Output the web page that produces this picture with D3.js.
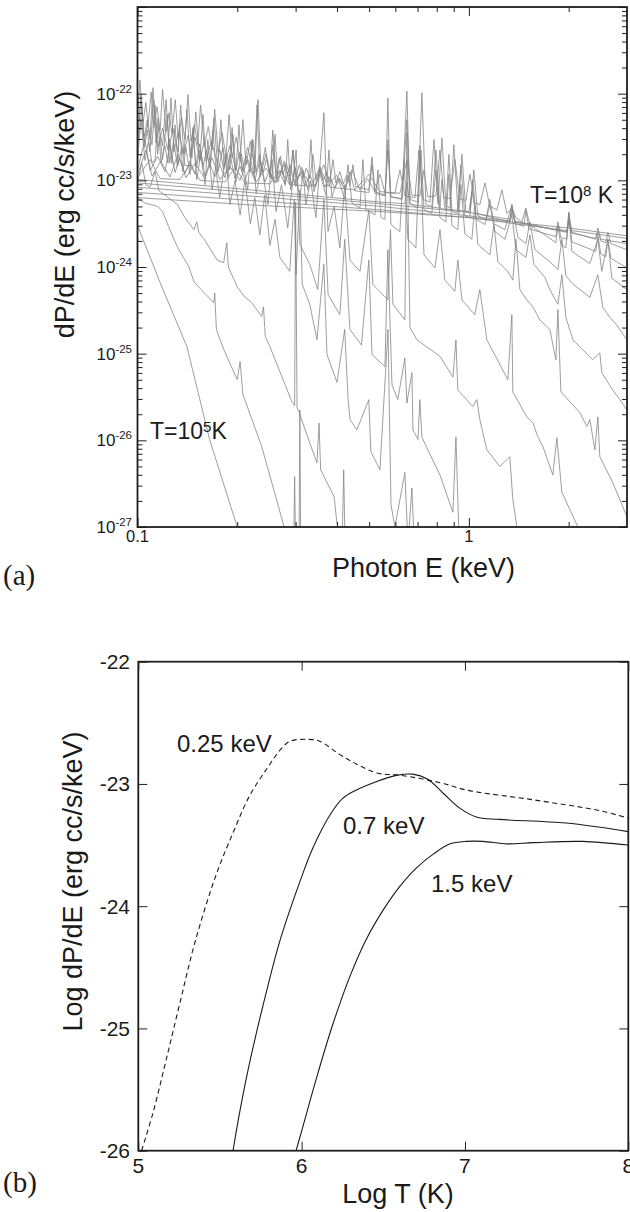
<!DOCTYPE html>
<html>
<head>
<meta charset="utf-8">
<script src="https://cdn.jsdelivr.net/npm/d3@7"></script>
<style>
  html, body { margin: 0; padding: 0; background: #fff; }
  svg { display: block; }
  text { font-family: "Liberation Sans", Arial, Helvetica, sans-serif; fill: #1a1a1a; }
</style>
</head>
<body>
<div id="chart"></div>
<script>
// panel (a): spectra, [photon E (keV), log10 dP/dE], one array per log T
const spectrumLogT = [5.0, 5.2, 5.4, 5.6, 5.8, 6.0, 6.2, 6.4, 6.6, 6.8, 7.0, 7.2, 7.4, 7.6, 7.8, 8.0];

const spec50 = [[0.100,-23.52],[0.117,-24.18],[0.141,-24.92],[0.165,-25.99],[0.200,-27.00],[0.218,-27.55]];
const spec52 = [[0.100,-23.20],[0.105,-23.26],[0.115,-23.30],[0.119,-23.36],[0.124,-23.53],[0.132,-23.77],[0.143,-24.00],[0.148,-24.17],[0.159,-24.30],[0.170,-24.41],[0.171,-24.30],[0.173,-24.72],[0.182,-24.95],[0.200,-25.30],[0.204,-25.09],[0.208,-25.47],[0.237,-26.07],[0.277,-27.00],[0.296,-27.30],[0.298,-26.42],[0.300,-27.35],[0.307,-27.40],[0.309,-25.65],[0.311,-27.45],[0.340,-27.70]];
const spec54 = [[0.100,-23.02],[0.103,-22.80],[0.106,-23.05],[0.109,-23.08],[0.113,-22.90],[0.116,-23.12],[0.121,-23.17],[0.132,-23.28],[0.139,-23.43],[0.148,-23.57],[0.151,-23.48],[0.153,-23.60],[0.159,-23.68],[0.174,-23.92],[0.182,-23.95],[0.186,-23.72],[0.188,-24.00],[0.200,-24.23],[0.210,-24.34],[0.221,-24.41],[0.237,-24.57],[0.240,-24.46],[0.243,-24.80],[0.251,-24.92],[0.292,-25.55],[0.298,-25.60],[0.300,-23.25],[0.303,-25.62],[0.307,-25.67],[0.331,-26.03],[0.348,-26.26],[0.353,-25.80],[0.357,-26.34],[0.392,-26.65],[0.400,-26.97],[0.415,-27.10],[0.419,-26.34],[0.423,-27.20],[0.450,-27.50]];
const spec56 = [[0.100,-22.62],[0.103,-22.18],[0.105,-22.62],[0.107,-22.42],[0.109,-22.67],[0.112,-22.07],[0.115,-22.70],[0.117,-22.50],[0.119,-22.76],[0.123,-22.24],[0.125,-22.80],[0.1285,-22.55],[0.132,-22.84],[0.134,-22.36],[0.137,-22.90],[0.140,-22.62],[0.144,-22.93],[0.147,-22.42],[0.151,-22.99],[0.155,-22.70],[0.160,-23.05],[0.163,-22.53],[0.168,-23.11],[0.172,-22.85],[0.177,-23.20],[0.185,-22.70],[0.190,-23.28],[0.197,-23.00],[0.204,-23.40],[0.211,-22.99],[0.219,-23.50],[0.226,-23.20],[0.234,-23.63],[0.242,-23.17],[0.251,-23.75],[0.260,-23.45],[0.269,-23.89],[0.288,-24.05],[0.297,-23.22],[0.301,-24.09],[0.309,-23.11],[0.314,-24.20],[0.331,-24.43],[0.348,-24.84],[0.365,-23.97],[0.373,-25.01],[0.400,-25.33],[0.422,-24.72],[0.432,-25.53],[0.438,-25.76],[0.459,-25.88],[0.499,-25.53],[0.506,-26.13],[0.539,-26.34],[0.570,-24.72],[0.582,-26.74],[0.598,-27.00],[0.641,-26.37],[0.655,-27.20],[0.673,-26.55],[0.687,-27.38],[0.763,-27.84]];
const spec58 = [[0.100,-22.47],[0.1025,-22.01],[0.1046,-22.51],[0.107,-22.30],[0.109,-22.53],[0.1114,-21.93],[0.1137,-22.57],[0.116,-22.38],[0.119,-22.60],[0.122,-22.07],[0.1245,-22.62],[0.128,-22.40],[0.1325,-22.67],[0.135,-22.13],[0.138,-22.70],[0.142,-22.48],[0.146,-22.74],[0.150,-22.21],[0.154,-22.78],[0.159,-22.55],[0.1655,-22.85],[0.170,-22.28],[0.175,-22.90],[0.181,-22.62],[0.1875,-22.97],[0.193,-22.39],[0.198,-23.02],[0.206,-22.70],[0.215,-23.11],[0.2215,-22.53],[0.228,-23.15],[0.237,-22.85],[0.2475,-23.28],[0.2545,-22.76],[0.262,-23.36],[0.272,-23.05],[0.284,-23.55],[0.301,-22.65],[0.309,-23.74],[0.331,-23.97],[0.350,-24.26],[0.365,-23.22],[0.376,-24.32],[0.408,-24.55],[0.422,-23.68],[0.4375,-24.72],[0.474,-24.90],[0.499,-23.92],[0.510,-25.01],[0.558,-25.15],[0.5695,-23.80],[0.586,-25.36],[0.6105,-25.53],[0.641,-25.05],[0.650,-25.57],[0.673,-25.22],[0.678,-25.88],[0.702,-25.99],[0.7115,-25.53],[0.721,-25.96],[0.752,-26.11],[0.818,-26.40],[0.895,-26.83],[0.914,-25.96],[0.933,-27.09],[1.04,-27.49]];
const spec60 = [[0.100,-22.30],[0.1017,-21.84],[0.104,-22.33],[0.106,-22.10],[0.1076,-22.36],[0.110,-21.98],[0.112,-22.39],[0.1145,-22.15],[0.117,-22.42],[0.119,-21.95],[0.122,-22.44],[0.1245,-22.22],[0.127,-22.46],[0.130,-22.07],[0.1325,-22.50],[0.136,-22.28],[0.139,-22.53],[0.142,-22.01],[0.145,-22.55],[0.1485,-22.35],[0.152,-22.59],[0.155,-22.13],[0.159,-22.61],[0.1635,-22.38],[0.168,-22.65],[0.171,-22.18],[0.175,-22.68],[0.180,-22.45],[0.185,-22.72],[0.189,-22.24],[0.193,-22.74],[0.1985,-22.50],[0.204,-22.78],[0.208,-22.30],[0.2125,-22.82],[0.219,-22.55],[0.226,-22.88],[0.231,-22.07],[0.236,-22.90],[0.243,-22.62],[0.251,-22.97],[0.256,-22.42],[0.262,-22.99],[0.270,-22.72],[0.279,-23.06],[0.284,-22.53],[0.290,-23.11],[0.299,-22.85],[0.309,-23.22],[0.316,-22.88],[0.322,-23.28],[0.333,-23.00],[0.3455,-23.43],[0.3652,-22.22],[0.3756,-23.59],[0.392,-23.30],[0.408,-23.78],[0.422,-23.05],[0.4375,-23.92],[0.469,-24.05],[0.499,-23.34],[0.513,-24.20],[0.5695,-24.38],[0.580,-23.57],[0.590,-24.43],[0.641,-24.61],[0.650,-22.45],[0.664,-24.70],[0.697,-24.84],[0.818,-25.03],[0.895,-25.27],[0.914,-24.84],[0.926,-25.42],[1.028,-25.61],[1.057,-25.53],[1.079,-25.76],[1.133,-26.11],[1.240,-26.30],[1.329,-26.19],[1.357,-26.68],[1.396,-27.00],[1.528,-27.38]];
const spec62 = [[0.100,-22.53],[0.1025,-22.07],[0.1046,-22.55],[0.1075,-22.35],[0.1106,-22.59],[0.1129,-22.13],[0.1153,-22.61],[0.119,-22.40],[0.1236,-22.65],[0.1262,-22.05],[0.1288,-22.67],[0.133,-22.45],[0.1381,-22.70],[0.141,-22.18],[0.144,-22.73],[0.149,-22.50],[0.1543,-22.76],[0.1576,-22.24],[0.161,-22.78],[0.167,-22.55],[0.1748,-22.82],[0.1785,-22.30],[0.1823,-22.84],[0.190,-22.60],[0.1982,-22.88],[0.2024,-22.36],[0.2066,-22.90],[0.215,-22.62],[0.2246,-22.93],[0.2294,-22.13],[0.2342,-22.96],[0.244,-22.70],[0.2545,-22.99],[0.260,-22.47],[0.2653,-23.02],[0.277,-22.78],[0.2884,-23.05],[0.2945,-22.65],[0.3006,-23.07],[0.313,-22.85],[0.3268,-23.11],[0.3337,-22.53],[0.3407,-23.13],[0.355,-22.92],[0.3703,-23.17],[0.3782,-22.65],[0.3861,-23.19],[0.403,-22.98],[0.4224,-23.22],[0.4315,-22.82],[0.4437,-23.26],[0.4691,-23.32],[0.4787,-22.76],[0.4889,-23.34],[0.5205,-23.40],[0.5313,-22.88],[0.5428,-23.43],[0.5579,-23.45],[0.5695,-22.05],[0.5815,-23.51],[0.619,-23.59],[0.6366,-22.76],[0.6546,-23.68],[0.692,-23.78],[0.7115,-22.60],[0.732,-23.86],[0.790,-24.01],[0.818,-23.57],[0.846,-24.15],[0.907,-24.28],[0.926,-23.92],[0.953,-24.38],[1.042,-24.55],[1.079,-24.26],[1.133,-24.84],[1.311,-25.30],[1.348,-24.55],[1.357,-25.44],[1.496,-25.73],[1.560,-25.80],[1.615,-25.96],[1.672,-26.07],[1.792,-26.40],[1.843,-25.97],[1.908,-26.60],[2.133,-27.00],[2.317,-27.27]];
const spec64 = [[0.100,-22.76],[0.1025,-22.30],[0.1053,-22.77],[0.108,-22.55],[0.1105,-22.79],[0.1129,-22.78],[0.1153,-22.28],[0.1177,-22.80],[0.121,-22.60],[0.1235,-22.80],[0.125,-22.52],[0.1271,-22.81],[0.1298,-22.36],[0.1325,-22.82],[0.136,-22.62],[0.139,-22.83],[0.144,-22.83],[0.147,-22.39],[0.150,-22.84],[0.154,-22.58],[0.158,-22.84],[0.161,-22.66],[0.1655,-22.85],[0.1689,-22.42],[0.1725,-22.87],[0.177,-22.64],[0.182,-22.88],[0.186,-22.70],[0.190,-22.88],[0.194,-22.47],[0.198,-22.89],[0.203,-22.68],[0.208,-22.89],[0.213,-22.72],[0.2185,-22.90],[0.2231,-22.53],[0.2278,-22.91],[0.233,-22.70],[0.239,-22.91],[0.245,-22.76],[0.251,-22.92],[0.2563,-22.59],[0.2617,-22.93],[0.268,-22.74],[0.275,-22.94],[0.281,-22.80],[0.2884,-22.95],[0.2945,-22.65],[0.3006,-22.96],[0.308,-22.82],[0.316,-22.97],[0.323,-22.86],[0.3314,-22.98],[0.3384,-22.70],[0.3455,-22.99],[0.355,-22.84],[0.364,-23.00],[0.372,-22.90],[0.381,-23.02],[0.389,-22.76],[0.397,-23.03],[0.408,-22.90],[0.418,-23.04],[0.428,-22.94],[0.4375,-23.06],[0.4467,-22.82],[0.456,-23.07],[0.499,-23.11],[0.510,-22.73],[0.5205,-23.13],[0.558,-23.17],[0.5695,-22.53],[0.5815,-23.19],[0.628,-23.22],[0.650,-21.97],[0.664,-23.26],[0.702,-23.32],[0.717,-22.65],[0.732,-23.34],[0.773,-23.38],[0.795,-22.88],[0.818,-23.43],[0.852,-23.48],[0.870,-22.93],[0.889,-23.52],[0.926,-23.57],[0.946,-23.05],[0.9725,-23.62],[1.021,-23.68],[1.042,-23.28],[1.064,-23.74],[1.157,-23.86],[1.190,-23.51],[1.223,-23.94],[1.311,-24.05],[1.357,-24.15],[1.387,-23.68],[1.425,-24.26],[1.496,-24.38],[1.560,-24.46],[1.637,-24.61],[1.755,-24.72],[1.830,-25.07],[1.856,-24.49],[1.895,-25.44],[2.162,-25.68],[2.270,-25.84],[2.317,-25.76],[2.400,-26.11],[2.450,-25.73],[2.484,-26.19],[2.719,-26.49],[2.997,-26.88]];
const spec66 = [[0.100,-22.88],[0.1053,-22.53],[0.1091,-22.89],[0.115,-22.72],[0.1211,-22.90],[0.1253,-22.59],[0.1298,-22.91],[0.134,-22.74],[0.139,-22.92],[0.144,-22.78],[0.1491,-22.93],[0.1543,-22.65],[0.1598,-22.95],[0.165,-22.80],[0.171,-22.96],[0.177,-22.82],[0.1837,-22.97],[0.1901,-22.70],[0.1968,-22.98],[0.204,-22.84],[0.211,-22.99],[0.218,-22.86],[0.2262,-23.00],[0.2342,-22.76],[0.2424,-23.02],[0.250,-22.88],[0.259,-23.03],[0.268,-22.90],[0.2786,-23.04],[0.2884,-22.82],[0.2985,-23.05],[0.309,-22.92],[0.320,-23.06],[0.331,-22.94],[0.3431,-23.07],[0.3552,-22.88],[0.3677,-23.08],[0.380,-22.96],[0.394,-23.09],[0.408,-22.98],[0.4224,-23.11],[0.4375,-22.90],[0.4529,-23.12],[0.4993,-23.14],[0.5098,-22.82],[0.5205,-23.15],[0.5579,-23.18],[0.5695,-22.65],[0.5815,-23.19],[0.6283,-23.21],[0.6501,-22.30],[0.6637,-23.22],[0.7018,-23.25],[0.7214,-21.99],[0.7418,-23.28],[0.7733,-23.30],[0.7953,-22.65],[0.8177,-23.32],[0.8524,-23.34],[0.8703,-22.70],[0.8887,-23.36],[0.9264,-23.38],[0.946,-22.82],[0.9725,-23.41],[1.007,-23.43],[1.028,-22.99],[1.050,-23.45],[1.118,-23.51],[1.157,-23.28],[1.198,-23.59],[1.284,-23.68],[1.348,-23.40],[1.387,-23.80],[1.486,-23.89],[1.528,-23.63],[1.571,-23.97],[1.696,-24.12],[1.755,-24.26],[1.856,-24.43],[1.908,-24.09],[1.962,-24.58],[2.060,-24.84],[2.162,-24.92],[2.366,-25.07],[2.484,-24.99],[2.518,-25.22],[2.719,-25.42],[2.855,-25.53],[2.997,-25.65]];
const spec68 = [[0.100,-22.93],[0.1061,-22.65],[0.1106,-22.95],[0.1175,-22.78],[0.1253,-22.96],[0.1325,-22.70],[0.1401,-22.97],[0.149,-22.80],[0.1598,-22.98],[0.1678,-22.74],[0.1773,-22.99],[0.190,-22.84],[0.2038,-23.00],[0.2154,-22.76],[0.2278,-23.02],[0.244,-22.86],[0.2617,-23.03],[0.2767,-22.82],[0.2924,-23.04],[0.313,-22.90],[0.3361,-23.06],[0.3552,-22.85],[0.3756,-23.07],[0.398,-22.94],[0.4224,-23.10],[0.4437,-22.88],[0.4691,-23.11],[0.494,-22.98],[0.5205,-23.13],[0.5389,-22.93],[0.5579,-23.14],[0.5979,-23.15],[0.6194,-22.88],[0.6409,-23.18],[0.6873,-23.20],[0.7067,-22.65],[0.7267,-23.22],[0.7627,-23.25],[0.7845,-22.53],[0.8065,-23.27],[0.8291,-22.51],[0.8524,-23.29],[0.8763,-23.32],[0.901,-22.59],[0.9264,-23.34],[0.9526,-22.70],[0.9795,-23.36],[1.007,-23.38],[1.035,-22.88],[1.064,-23.41],[1.126,-23.45],[1.157,-23.22],[1.190,-23.50],[1.284,-23.57],[1.348,-23.28],[1.406,-23.66],[1.486,-23.73],[1.528,-23.48],[1.582,-23.80],[1.731,-23.92],[1.856,-24.03],[1.908,-23.68],[1.962,-24.10],[2.053,-24.19],[2.162,-24.26],[2.317,-24.35],[2.450,-24.09],[2.537,-24.47],[2.663,-24.58],[2.796,-24.67],[2.997,-24.84]];
const spec70 = [[0.100,-22.97],[0.1091,-22.76],[0.1169,-22.98],[0.1343,-22.99],[0.144,-22.82],[0.1543,-23.00],[0.1837,-23.02],[0.1968,-22.85],[0.211,-23.03],[0.251,-23.04],[0.2691,-22.88],[0.2884,-23.05],[0.3431,-23.07],[0.3652,-22.82],[0.3809,-23.08],[0.4529,-23.11],[0.4993,-22.93],[0.5389,-23.13],[0.6194,-23.15],[0.6501,-22.76],[0.6729,-23.17],[0.7115,-23.18],[0.7317,-22.88],[0.7521,-23.19],[0.7953,-23.18],[0.8177,-22.65],[0.8406,-23.20],[0.8763,-23.21],[0.9073,-22.76],[0.9395,-23.22],[0.9795,-23.23],[1.007,-22.93],[1.042,-23.26],[1.079,-23.28],[1.118,-23.03],[1.157,-23.30],[1.215,-23.34],[1.258,-23.11],[1.302,-23.38],[1.348,-23.32],[1.387,-23.43],[1.445,-23.48],[1.486,-23.32],[1.528,-23.52],[1.696,-23.63],[1.830,-23.72],[1.856,-23.53],[1.895,-23.74],[1.962,-23.78],[2.003,-23.37],[2.045,-23.82],[2.317,-23.96],[2.450,-23.68],[2.518,-24.05],[2.627,-23.68],[2.700,-24.13],[2.997,-24.26]];
const spec72 = [[0.100,-22.99],[0.2185,-23.11],[0.5389,-23.25],[0.6409,-23.27],[0.6501,-23.02],[0.6637,-23.28],[0.8177,-23.32],[0.8291,-22.99],[0.8464,-23.33],[1.000,-23.36],[1.021,-23.13],[1.050,-23.38],[1.329,-23.48],[1.348,-23.28],[1.377,-23.50],[1.465,-23.53],[1.486,-23.34],[1.517,-23.56],[1.830,-23.65],[1.856,-23.48],[1.895,-23.66],[1.975,-23.68],[2.003,-23.43],[2.045,-23.71],[2.416,-23.82],[2.450,-23.64],[2.502,-23.85],[2.590,-23.88],[2.627,-23.68],[2.682,-23.90],[2.997,-24.01]];
const spec74 = [[0.100,-23.03],[0.2342,-23.15],[0.5389,-23.27],[1.000,-23.37],[1.329,-23.45],[1.348,-23.32],[1.377,-23.47],[1.830,-23.57],[1.856,-23.52],[1.895,-23.58],[1.975,-23.59],[2.003,-23.37],[2.045,-23.60],[2.416,-23.68],[2.450,-23.60],[2.502,-23.70],[2.590,-23.72],[2.627,-23.60],[2.682,-23.73],[2.997,-23.80]];
const spec76 = [[0.100,-23.08],[0.2342,-23.19],[0.5389,-23.30],[1.000,-23.41],[1.329,-23.47],[1.348,-23.36],[1.377,-23.48],[1.975,-23.60],[2.003,-23.45],[2.045,-23.61],[2.416,-23.67],[2.450,-23.55],[2.502,-23.68],[2.997,-23.73]];
const spec78 = [[0.100,-23.14],[0.2342,-23.24],[0.5389,-23.34],[1.000,-23.43],[1.975,-23.58],[2.003,-23.48],[2.045,-23.58],[2.997,-23.67]];
const spec80 = [[0.100,-23.20],[0.2342,-23.29],[0.5389,-23.36],[1.000,-23.43],[2.003,-23.55],[2.997,-23.64]];

const spectra = [spec50, spec52, spec54, spec56, spec58, spec60, spec62, spec64,
                 spec66, spec68, spec70, spec72, spec74, spec76, spec78, spec80];

// panel (b): band emissivity, [log T, log10 dP/dE]
const bandNames = ["0.25 keV", "0.7 keV", "1.5 keV"];
const band025 = [[5.02,-26.0],[5.09,-25.69],[5.17,-25.26],[5.255,-24.79],[5.35,-24.28],[5.48,-23.73],[5.58,-23.40],[5.68,-23.10],[5.79,-22.87],[5.87,-22.72],[5.93,-22.65],[6.04,-22.635],[6.11,-22.65],[6.235,-22.76],[6.34,-22.84],[6.46,-22.91],[6.61,-22.93],[6.85,-22.99],[7.01,-23.05],[7.42,-23.13],[7.83,-23.22],[8.0,-23.28]];
const band07 = [[5.58,-26.0],[5.62,-25.69],[5.685,-25.26],[5.79,-24.67],[5.87,-24.27],[6.0,-23.76],[6.07,-23.52],[6.18,-23.24],[6.25,-23.12],[6.32,-23.06],[6.44,-22.99],[6.58,-22.93],[6.68,-22.92],[6.77,-22.96],[6.87,-23.08],[6.97,-23.20],[7.07,-23.27],[7.21,-23.29],[7.62,-23.32],[8.0,-23.39]];
const band15 = [[5.966,-26.0],[6.0,-25.84],[6.09,-25.41],[6.19,-24.97],[6.30,-24.56],[6.40,-24.26],[6.50,-24.03],[6.60,-23.84],[6.70,-23.69],[6.81,-23.57],[6.91,-23.49],[7.01,-23.47],[7.11,-23.47],[7.26,-23.49],[7.42,-23.48],[7.72,-23.47],[8.0,-23.50]];

// ticks
const aMajorE = [0.1, 1];
const aMinorE = [0.2, 0.3, 0.4, 0.5, 0.6, 0.7, 0.8, 0.9, 2];
const aDecades = [-27, -26, -25, -24, -23, -22, -21];
const bTicksX = [5, 6, 7, 8];
const bTicksY = [-26, -25, -24, -23, -22];

const width = 630, height = 1212;
const svg = d3.select("#chart").append("svg").attr("width", width).attr("height", height);

// ---------- panel (a) ----------
const A = {left: 137.5, right: 627, top: 7, bottom: 527};
const xA = d3.scaleLog().domain([0.1, 3]).range([A.left, A.right]);
const yA = d3.scaleLog().domain([1e-27, 1e-21]).range([A.bottom, A.top]);

svg.append("clipPath").attr("id", "clipA").append("rect")
    .attr("x", A.left).attr("y", A.top).attr("width", A.right - A.left).attr("height", A.bottom - A.top);

const lineA = d3.line().x(d => xA(d[0])).y(d => yA(Math.pow(10, d[1])));

svg.append("g").attr("clip-path", "url(#clipA)")
  .selectAll("path").data(spectra).join("path")
    .attr("d", lineA)
    .attr("fill", "none")
    .attr("stroke", "#858585")
    .attr("stroke-width", 0.8)
    .attr("stroke-linejoin", "round");

const minorP = [];
aDecades.slice(0, -1).forEach(d => { for (let k = 2; k <= 9; k++) minorP.push(k * Math.pow(10, d)); });
const majorP = aDecades.map(d => Math.pow(10, d));

function ticks(axis, pos, values, size) {
  svg.append("g").attr("transform", pos)
    .call(axis.tickValues(values).tickSize(size).tickFormat(""))
    .call(g => g.select(".domain").remove())
    .call(g => g.selectAll("line").attr("stroke", "#222").attr("stroke-width", 1));
}
ticks(d3.axisLeft(yA), `translate(${A.left},0)`, majorP, -9);
ticks(d3.axisLeft(yA), `translate(${A.left},0)`, minorP, -5);
ticks(d3.axisRight(yA), `translate(${A.right},0)`, majorP, -9);
ticks(d3.axisRight(yA), `translate(${A.right},0)`, minorP, -5);
ticks(d3.axisBottom(xA), `translate(0,${A.bottom})`, aMajorE, -9);
ticks(d3.axisBottom(xA), `translate(0,${A.bottom})`, aMinorE, -5);
ticks(d3.axisTop(xA), `translate(0,${A.top})`, aMajorE, -9);
ticks(d3.axisTop(xA), `translate(0,${A.top})`, aMinorE, -5);

svg.append("rect").attr("x", A.left).attr("y", A.top)
    .attr("width", A.right - A.left).attr("height", A.bottom - A.top)
    .attr("fill", "none").attr("stroke", "#1e1e1e").attr("stroke-width", 1.8);

aDecades.filter(d => d < -21).forEach(d => {
  const t = svg.append("text").attr("x", 132).attr("y", yA(Math.pow(10, d)) + 6)
      .attr("text-anchor", "end").attr("font-size", 17);
  t.append("tspan").text("10");
  t.append("tspan").attr("dy", -7).attr("font-size", 11.5).text(d);
});

aMajorE.forEach(e => {
  svg.append("text").attr("x", xA(e)).attr("y", 542).attr("text-anchor", "middle")
      .attr("font-size", 16.5).text(e);
});

svg.append("text").attr("x", 332).attr("y", 577).attr("font-size", 27).text("Photon E (keV)");
svg.append("text").attr("transform", "translate(74,214.5) rotate(-90)")
    .attr("text-anchor", "middle").attr("font-size", 27).text("dP/dE (erg cc/s/keV)");

function tempLabel(x, y, exp, gap) {
  const t = svg.append("text").attr("x", x).attr("y", y).attr("font-size", 23);
  t.append("tspan").text("T=10");
  t.append("tspan").attr("dy", -7.5).attr("font-size", 15).text(exp);
  t.append("tspan").attr("dy", 7.5).text(gap + "K");
}
tempLabel(530, 203, "8", " ");
tempLabel(150, 439, "5", "");

svg.append("text").attr("x", 3).attr("y", 585).attr("font-size", 29)
    .style("font-family", "'Liberation Serif', 'Times New Roman', serif").text("(a)");

// ---------- panel (b) ----------
const B = {left: 138.3, right: 628.3, top: 661.7, bottom: 1150.7};
const xB = d3.scaleLinear().domain([5, 8]).range([B.left, B.right]);
const yB = d3.scaleLinear().domain([-26, -22]).range([B.bottom, B.top]);

svg.append("clipPath").attr("id", "clipB").append("rect")
    .attr("x", B.left).attr("y", B.top).attr("width", B.right - B.left).attr("height", B.bottom - B.top);

const lineB = d3.line().x(d => xB(d[0])).y(d => yB(d[1])).curve(d3.curveCatmullRom.alpha(0.5));
const bands = [band025, band07, band15];
svg.append("g").attr("clip-path", "url(#clipB)")
  .selectAll("path").data(bands).join("path")
    .attr("d", lineB)
    .attr("fill", "none")
    .attr("stroke", "#1a1a1a")
    .attr("stroke-width", 1.1)
    .attr("stroke-dasharray", (d, i) => i === 0 ? "5,3.5" : null);

function ticksB(axis, pos, values) {
  svg.append("g").attr("transform", pos)
    .call(axis.tickValues(values).tickSize(-9).tickFormat(""))
    .call(g => g.select(".domain").remove())
    .call(g => g.selectAll("line").attr("stroke", "#222").attr("stroke-width", 1));
}
ticksB(d3.axisLeft(yB), `translate(${B.left},0)`, bTicksY);
ticksB(d3.axisRight(yB), `translate(${B.right},0)`, bTicksY);
ticksB(d3.axisBottom(xB), `translate(0,${B.bottom})`, bTicksX);
ticksB(d3.axisTop(xB), `translate(0,${B.top})`, bTicksX);

svg.append("rect").attr("x", B.left).attr("y", B.top)
    .attr("width", B.right - B.left).attr("height", B.bottom - B.top)
    .attr("fill", "none").attr("stroke", "#1e1e1e").attr("stroke-width", 1.8);

bTicksY.forEach(v => {
  svg.append("text").attr("x", 130).attr("y", yB(v) + 7.5).attr("text-anchor", "end")
      .attr("font-size", 21).text(v);
});
bTicksX.forEach(v => {
  svg.append("text").attr("x", xB(v)).attr("y", 1173).attr("text-anchor", "middle")
      .attr("font-size", 21).text(v);
});

const bandLabelPos = [[177, 752], [343, 834], [431, 891.5]];
bandNames.forEach((name, i) => {
  svg.append("text").attr("x", bandLabelPos[i][0]).attr("y", bandLabelPos[i][1])
      .attr("font-size", 24).text(name);
});

svg.append("text").attr("x", 398).attr("y", 1203).attr("text-anchor", "middle")
    .attr("font-size", 27).text("Log T (K)");
svg.append("text").attr("transform", "translate(82,881.5) rotate(-90)")
    .attr("text-anchor", "middle").attr("font-size", 27).text("Log dP/dE (erg cc/s/keV)");

svg.append("text").attr("x", 3).attr("y", 1192).attr("font-size", 29)
    .style("font-family", "'Liberation Serif', 'Times New Roman', serif").text("(b)");
</script>
</body>
</html>
